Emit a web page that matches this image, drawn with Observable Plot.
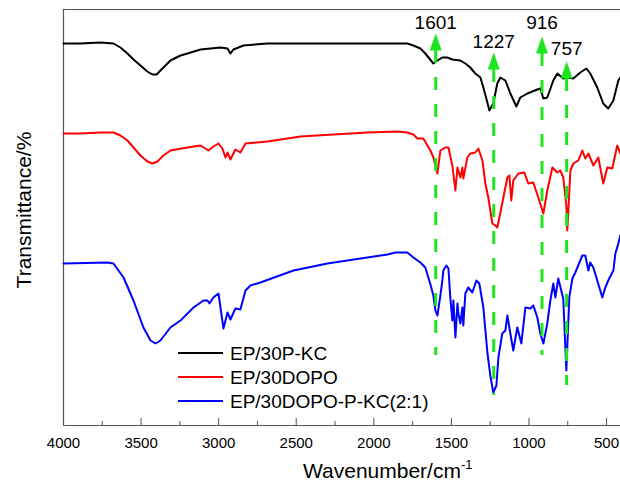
<!DOCTYPE html>
<html><head><meta charset="utf-8">
<script src="https://cdn.jsdelivr.net/npm/d3@7"></script>
<script src="https://cdn.jsdelivr.net/npm/@observablehq/plot@0.6"></script>
<style>
body{margin:0;background:#fff;overflow:hidden}
#chart{width:620px;height:484px}
</style>
</head><body><div id="chart"></div>
<script>
// ---- data ----
const seriesNames = ["EP/30P-KC", "EP/30DOPO", "EP/30DOPO-P-KC(2:1)"];

const blackWn = [4000,3890,3762,3678,3633,3588,3549,3504,3460,3427,3400,3375,3311,3246,3201,3117,2988,2943,2924,2905,2840,2686,2344,2086,1829,1784,1745,1700,1668,1616,1590,1558,1526,1494,1442,1410,1378,1346,1313,1294,1275,1255,1230,1204,1184,1152,1120,1081,1056,1010,946,927,907,882,843,817,779,753,714,669,630,605,560,521,489,456,424,411];
const blackT = [382,382,383,382,378,372,366,360,354,351,351,355,365,370,372,376,378,377,372,376,380,382,382,382,382,382,380,377,372,362,365,368,368,366,365,362,358,352,348,338,327,315,322,342,348,345,332,319,328,332,336,337,327,328,345,352,347,348,347,353,357,352,338,322,317,325,345,348];

const redWn = [4000,3890,3762,3678,3633,3588,3549,3504,3459,3427,3394,3356,3311,3201,3117,3066,3034,3001,2976,2956,2943,2924,2892,2860,2827,2686,2473,2260,2041,1848,1784,1745,1719,1681,1635,1616,1590,1571,1539,1519,1494,1474,1461,1442,1429,1423,1397,1378,1346,1326,1300,1281,1262,1236,1217,1204,1184,1165,1139,1126,1114,1101,1068,1030,1004,972,940,907,882,849,817,798,779,759,753,746,733,714,682,656,637,617,585,553,521,495,463,431,411];
const redT = [292,292,293,293,290,285,278,270,264,262,264,270,275,278,280,275,279,282,277,268,273,266,276,273,282,284,289,291,293,294,293,291,287,287,275,268,252,275,278,278,260,235,258,248,258,247,268,272,273,277,265,242,228,202,200,198,213,228,248,250,225,245,252,253,242,243,228,212,235,258,253,255,248,220,195,215,255,262,265,275,267,272,260,268,242,258,257,280,272];

const blueWn = [4000,3717,3678,3613,3549,3485,3439,3407,3375,3311,3246,3162,3098,3072,3059,3034,3001,2969,2943,2924,2892,2860,2827,2795,2731,2518,2299,2086,1912,1861,1784,1745,1700,1668,1635,1616,1603,1590,1571,1558,1552,1532,1519,1507,1494,1487,1474,1461,1455,1442,1429,1423,1410,1391,1365,1339,1320,1294,1268,1249,1230,1210,1197,1172,1152,1139,1120,1101,1075,1049,1023,991,972,946,927,907,882,862,843,830,811,779,759,753,740,720,701,656,637,617,605,585,527,508,489,456,443,424,411];
const blueT = [162,163,162,148,125,98,85,82,85,98,105,118,125,125,122,128,132,97,113,106,117,116,135,140,143,155,162,167,171,173,173,168,163,158,141,130,115,110,130,145,155,160,157,128,105,125,88,122,112,102,118,100,132,138,133,145,142,118,73,50,33,40,68,92,95,110,92,75,98,82,118,117,120,108,92,82,102,125,142,128,147,127,55,78,128,147,153,170,170,155,163,158,128,138,145,155,172,182,190];

const peakWn = [1601, 1227, 916, 757];
const peakTip = [392, 373, 389, 364];
const peakBottom = [70, 30, 70, 40];
const peakLabelY = [403, 384, 403, 377];

const majorTicks = [4000, 3500, 3000, 2500, 2000, 1500, 1000, 500];
const minorTicks = [3750, 3250, 2750, 2250, 1750, 1250, 750];
const xDomain = [4000, 410];
const yDomain = [0, 416];
const xTitle = "Wavenumber/cm";
const xTitleSup = "-1";
const yTitle = "Transmittance/%";

// ---- build ----
const colors = ["#000000", "#ff0000", "#0000ff"];
const green = "#1ee61e";
const raw = [[blackWn, blackT], [redWn, redT], [blueWn, blueT]];
const rows = raw.flatMap(([w, t], i) => w.map((wn, j) => ({series: seriesNames[i], wn, t: t[j]})));
const peaks = peakWn.map((wn, i) => ({wn, tip: peakTip[i], bottom: peakBottom[i], ly: peakLabelY[i], label: String(wn)}));

const triangle = {draw(ctx) { ctx.moveTo(0, 0); ctx.lineTo(6, 17); ctx.lineTo(-6, 17); ctx.closePath(); }};

const plot = Plot.plot({
  width: 620, height: 484,
  marginLeft: 63, marginRight: 0, marginTop: 9, marginBottom: 59,
  x: {domain: xDomain},
  y: {domain: yDomain, axis: null},
  color: {domain: seriesNames, range: colors},
  style: {fontFamily: "'Liberation Sans', Arial, sans-serif", fontSize: "15px", color: "#000", background: "#fff"},
  marks: [
    Plot.ruleY([yDomain[1]], {stroke: "#555", strokeWidth: 1.2}),
    Plot.ruleX([xDomain[0]], {stroke: "#555", strokeWidth: 1.2}),
    Plot.ruleY([yDomain[0]], {stroke: "#555", strokeWidth: 1.2}),
    Plot.axisX(majorTicks, {tickSize: 0, tickPadding: 12, fontSize: 15, label: null, fill: "#000", tickFormat: d => String(d)}),
    Plot.axisX(majorTicks, {tickSize: -7, text: null, label: null, stroke: "#555"}),
    Plot.axisX(minorTicks, {tickSize: -4, text: null, label: null, stroke: "#555"}),
    Plot.line(rows, {x: "wn", y: "t", z: "series", stroke: "series", strokeWidth: 2, strokeLinejoin: "round"}),
    Plot.ruleX(peaks, {x: "wn", y1: "tip", y2: "bottom", insetTop: 17, stroke: green, strokeWidth: 3, strokeDasharray: "13,14"}),
    Plot.dot(peaks, {x: "wn", y: "tip", symbol: triangle, fill: green, stroke: "none"}),
    Plot.text(peaks, {x: "wn", y: "ly", text: "label", fontSize: 19, fill: "#000"})
  ]
});

const svg = d3.select(plot);
const xt = svg.append("text").attr("x", 303).attr("y", 478).attr("text-anchor", "start").attr("font-size", 21).attr("fill", "#000");
xt.append("tspan").text(xTitle);
xt.append("tspan").attr("dy", -9).attr("font-size", 13).text(xTitleSup);

svg.append("text").attr("transform", "translate(31,210) rotate(-90)").attr("text-anchor", "middle")
  .attr("font-size", 21).attr("fill", "#000").text(yTitle);

const lg = svg.append("g").attr("text-anchor", "start");
seriesNames.forEach((name, i) => {
  const y = 353 + 24 * i;
  lg.append("line").attr("x1", 178).attr("x2", 223).attr("y1", y).attr("y2", y).attr("stroke", colors[i]).attr("stroke-width", 2);
  lg.append("text").attr("x", 230).attr("y", y).attr("dy", "0.35em").attr("text-anchor", "start").attr("font-size", 19).attr("fill", "#000").text(name);
});

document.getElementById("chart").appendChild(plot);
</script>
</body></html>
